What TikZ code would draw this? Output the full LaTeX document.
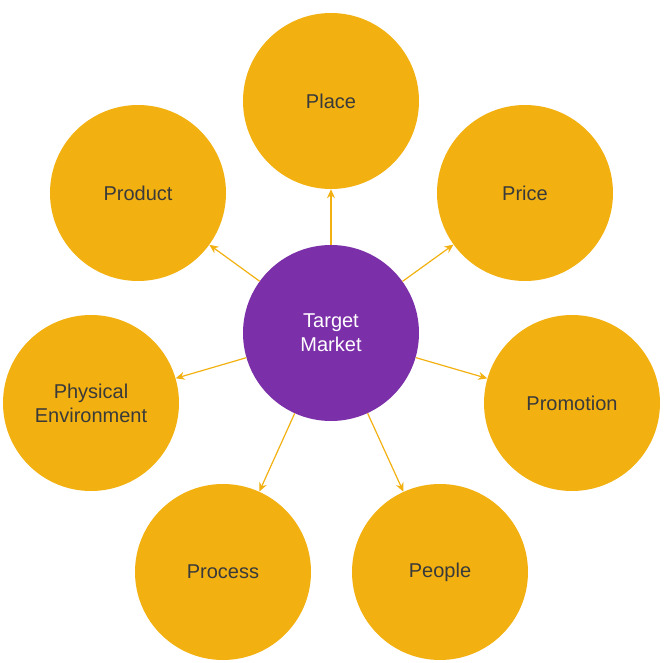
\documentclass[tikz,border=0pt]{standalone}
\usepackage{fontspec}
\setmainfont{Liberation Sans}
\usetikzlibrary{arrows.meta}
\definecolor{gold}{HTML}{F2B111}
\definecolor{violet}{HTML}{7B2FA8}
\definecolor{ink}{HTML}{3A3A3A}
\begin{document}
\begin{tikzpicture}[x=1pt,y=-1pt]

\tikzset{every node/.style = {circle, minimum size=176pt, inner sep=0pt, align=center, font=\fontsize{20}{24}\selectfont}}
\tikzstyle{outer} = [fill=gold, text=ink]
\tikzstyle{hub}   = [fill=violet, text=white]
\tikzstyle{link}  = [draw=gold, line width=1.2pt, -{Stealth[length=9pt,width=8pt]}]

\useasboundingbox (0,0) rectangle (667,663);

\node[hub]   (target)  at (331,333) {Target\\Market};
\node[outer] (place)   at (331,101) {Place};
\node[outer] (price)   at (525,193) {Price};
\node[outer] (promo)   at (572,403) {Promotion};
\node[outer] (people)  at (440,572) {People};
\node[outer] (process) at (223,572) {Process};
\node[outer] (phys)    at (91,403)  {Physical\\Environment};
\node[outer] (product) at (138,193) {Product};

\foreach \n in {place,price,promo,people,process,phys,product}
  \draw[link] (target) -- (\n);

\end{tikzpicture}
\end{document}
